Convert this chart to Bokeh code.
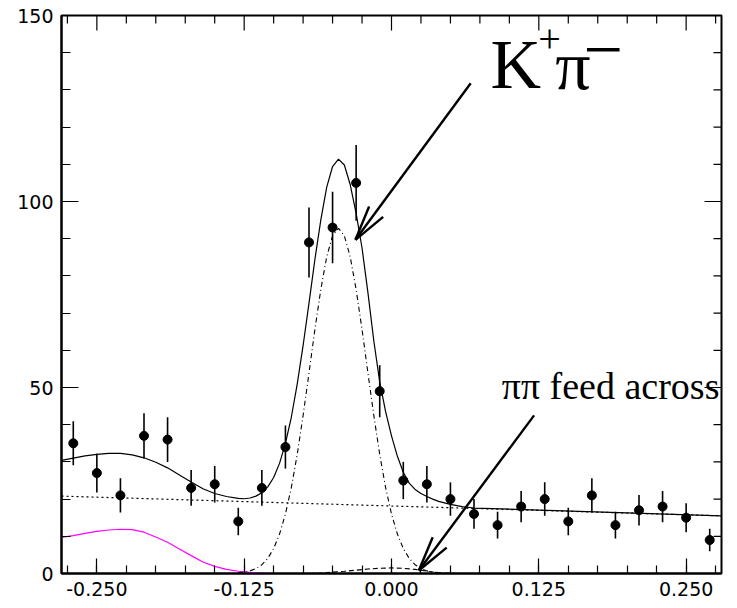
import math
from bokeh.plotting import figure
from bokeh.models import FixedTicker, PrintfTickFormatter, Range1d, Label
from bokeh.embed import file_html
from bokeh.resources import INLINE

# ---------------- data ----------------
bin_x = [-0.27, -0.25, -0.23, -0.21, -0.19, -0.17, -0.15, -0.13, -0.11, -0.09,
         -0.07, -0.05, -0.03, -0.01, 0.01, 0.03, 0.05, 0.07, 0.09, 0.11,
         0.13, 0.15, 0.17, 0.19, 0.21, 0.23, 0.25, 0.27]
counts = [35, 27, 21, 37, 36, 23, 24, 14, 23, 34,
          89, 93, 105, 49, 25, 24, 20, 16, 13, 18,
          20, 14, 21, 13, 17, 18, 15, 9]
errors = [5.9, 5.2, 4.6, 6.1, 6.0, 4.8, 4.9, 3.7, 4.8, 5.8,
          9.4, 9.6, 10.2, 7.0, 5.0, 4.9, 4.5, 4.0, 3.6, 4.2,
          4.5, 3.7, 4.6, 3.6, 4.1, 4.2, 3.9, 3.0]

# total fit (solid)
total_x = [-0.28, -0.27, -0.26, -0.25, -0.24, -0.23, -0.22, -0.21, -0.20, -0.19,
           -0.18, -0.17, -0.16, -0.15, -0.14, -0.13, -0.125, -0.12, -0.115, -0.11,
           -0.105, -0.10, -0.095, -0.09, -0.085, -0.08, -0.075, -0.07, -0.065, -0.06,
           -0.055, -0.05, -0.045, -0.04, -0.035, -0.03, -0.025, -0.02, -0.015, -0.01,
           -0.005, 0.0, 0.005, 0.01, 0.015, 0.02, 0.025, 0.03, 0.035, 0.04,
           0.05, 0.06, 0.07, 0.28]
total_y = [30.4, 31.0, 31.6, 32.0, 32.3, 32.3, 31.9, 31.1, 29.9, 28.4,
           26.5, 24.6, 22.8, 21.5, 20.7, 20.2, 20.1, 20.3, 20.8, 21.7,
           23.3, 25.8, 29.6, 35.0, 42.0, 50.9, 61.3, 72.7, 84.4, 95.0,
           103.8, 109.4, 111.4, 109.8, 104.5, 96.8, 87.5, 75.5, 62.5, 51.5,
           43.5, 37.0, 31.5, 27.2, 24.3, 22.6, 21.5, 20.7, 20.0, 19.4,
           18.6, 18.0, 17.6, 15.5]

# K+pi- signal (dash-dot)
sig_x = [-0.13, -0.125, -0.12, -0.115, -0.11, -0.105, -0.10, -0.095, -0.09, -0.085,
         -0.08, -0.075, -0.07, -0.065, -0.06, -0.055, -0.05, -0.045, -0.04, -0.035,
         -0.03, -0.025, -0.02, -0.015, -0.01, -0.005, 0.0, 0.005, 0.01, 0.015,
         0.02, 0.025, 0.03, 0.035, 0.04]
sig_y = [0.18, 0.36, 0.70, 1.32, 2.37, 4.08, 6.72, 10.6, 16.0, 23.1,
         32.0, 42.5, 53.9, 65.6, 76.3, 85.1, 90.8, 92.8, 90.8, 85.1,
         76.3, 65.6, 53.9, 42.5, 32.0, 23.1, 16.0, 10.6, 6.72, 4.08,
         2.37, 1.32, 0.70, 0.36, 0.18]

# combinatoric background (dotted)
bkg_x = [-0.28, 0.28]
bkg_y = [20.8, 15.5]

# low-side component (magenta)
mag_x = [-0.28, -0.27, -0.26, -0.25, -0.24, -0.23, -0.22, -0.21, -0.20, -0.19,
         -0.18, -0.17, -0.16, -0.15, -0.14, -0.13, -0.12, -0.11, -0.10, 0.28]
mag_y = [9.7, 10.2, 10.8, 11.3, 11.7, 11.9, 11.8, 11.1, 9.8, 8.4,
         6.6, 4.8, 3.1, 1.9, 1.1, 0.6, 0.3, 0.1, 0.0, 0.0]

# pi pi feed across (dashed)
pp_x = [-0.07, -0.06, -0.05, -0.04, -0.03, -0.02, -0.01, 0.0, 0.01, 0.02,
        0.03, 0.04, 0.05, 0.06]
pp_y = [0.0, 0.1, 0.35, 0.6, 0.9, 1.2, 1.4, 1.5, 1.4, 1.1,
        0.6, 0.25, 0.05, 0.0]

x_major = [-0.25, -0.125, 0.0, 0.125, 0.25]
x_minor = [-0.275, -0.25, -0.225, -0.2, -0.175, -0.15, -0.125, -0.1, -0.075, -0.05,
           -0.025, 0.0, 0.025, 0.05, 0.075, 0.1, 0.125, 0.15, 0.175, 0.2,
           0.225, 0.25, 0.275]
y_major = [0, 50, 100, 150]
y_minor = [0, 10, 20, 30, 40, 50, 60, 70, 80, 90, 100, 110, 120, 130, 140, 150]

# annotation arrows: (tip, tail) in data coordinates
arrow_tips = [(-0.0306, 89.7), (0.0232, 0.8)]
arrow_tails = [(0.0672, 131.8), (0.121, 42.5)]

# ---------------- figure ----------------
XR = (-0.28, 0.28)
YR = (0, 150)
W, H = 737, 608
BL, BR, BT, BB = 61, 16, 15, 35

p = figure(width=W, height=H, x_range=Range1d(*XR), y_range=Range1d(*YR),
           output_backend="svg", toolbar_location=None,
           min_border_left=BL, min_border_right=BR,
           min_border_top=BT, min_border_bottom=BB)
p.background_fill_color = "white"
p.border_fill_color = "white"
p.outline_line_color = "black"
p.outline_line_width = 2
p.xgrid.visible = False
p.ygrid.visible = False

fx = (W - BL - BR) / (XR[1] - XR[0])   # px per x unit
fy = (H - BT - BB) / (YR[1] - YR[0])   # px per y unit


def style_axis(ax, ticker, tick_major, tick_minor):
    ax.ticker = ticker
    ax.major_tick_in = tick_major
    ax.major_tick_out = 0
    ax.minor_tick_in = tick_minor
    ax.minor_tick_out = 0
    ax.axis_line_color = "black"
    ax.axis_line_width = 2
    ax.major_tick_line_color = "black"
    ax.major_tick_line_width = 1.2
    ax.minor_tick_line_color = "black"
    ax.minor_tick_line_width = 1.2
    ax.major_label_text_font = "DejaVu Sans"
    ax.major_label_text_font_size = "19px"
    ax.major_label_text_color = "black"
    ax.major_label_standoff = 8


style_axis(p.xaxis[0], FixedTicker(ticks=x_major, minor_ticks=x_minor), 15, 8)
p.xaxis[0].formatter = PrintfTickFormatter(format="%.3f")
style_axis(p.yaxis[0], FixedTicker(ticks=y_major, minor_ticks=y_minor), 17, 9)

# mirrored ticks on the top and right edges of the frame
tx0, ty0, tx1, ty1 = [], [], [], []
for xv in x_minor:
    L = 15 if xv in x_major else 8
    tx0.append(xv); ty0.append(YR[1]); tx1.append(xv); ty1.append(YR[1] - L / fy)
for yv in y_minor:
    L = 17 if yv in y_major else 8
    tx0.append(XR[1]); ty0.append(yv); tx1.append(XR[1] - L / fx); ty1.append(yv)
p.segment(x0=tx0, y0=ty0, x1=tx1, y1=ty1, line_color="black", line_width=1.2)

# curves
p.line(mag_x, mag_y, line_color="#ff00ff", line_width=1.2)
p.line(bkg_x, bkg_y, line_color="black", line_width=1.2, line_dash="2 3")
p.line(sig_x, sig_y, line_color="black", line_width=1.1, line_dash="5 3 1 3")
p.line(pp_x, pp_y, line_color="black", line_width=1.1, line_dash="5 3")
p.line(total_x, total_y, line_color="black", line_width=1.2)

# data points with error bars
p.segment(x0=bin_x, y0=[c - e for c, e in zip(counts, errors)],
          x1=bin_x, y1=[c + e for c, e in zip(counts, errors)],
          line_color="black", line_width=1.6)
p.scatter(bin_x, counts, size=9, marker="circle",
          fill_color="black", line_color="black")

# arrows (shaft + open head drawn as segments)
HEAD_L = 36
HEAD_ANG = math.radians(14)
ax0, ay0, ax1, ay1 = [], [], [], []
for tip, tail in zip(arrow_tips, arrow_tails):
    ax0.append(tip[0]); ay0.append(tip[1]); ax1.append(tail[0]); ay1.append(tail[1])
    dx = (tail[0] - tip[0]) * fx
    dy = (tail[1] - tip[1]) * fy
    n = math.hypot(dx, dy)
    ux, uy = dx / n, dy / n
    for s in (1, -1):
        a = s * HEAD_ANG
        rx = ux * math.cos(a) - uy * math.sin(a)
        ry = ux * math.sin(a) + uy * math.cos(a)
        ax0.append(tip[0]); ay0.append(tip[1])
        ax1.append(tip[0] + rx * HEAD_L / fx)
        ay1.append(tip[1] + ry * HEAD_L / fy)
p.segment(x0=ax0, y0=ay0, x1=ax1, y1=ay1, line_color="black", line_width=2.4)

# labels
SERIF = "Liberation Serif"


def add_label(x, y, text, size):
    p.add_layout(Label(x=x, y=y, text=text, text_font=SERIF,
                       text_font_size=size, text_color="black",
                       text_align="left", text_baseline="alphabetic"))


add_label(0.084, 136.8, "K", "70px")
add_label(0.1245, 143.6, "+", "40px")
add_label(0.139, 136.5, "π", "70px")
add_label(0.163, 140.8, "−", "70px")
add_label(0.0935, 50.3, "ππ feed across", "38px")

open("out.html", "w").write(file_html(p, INLINE))
